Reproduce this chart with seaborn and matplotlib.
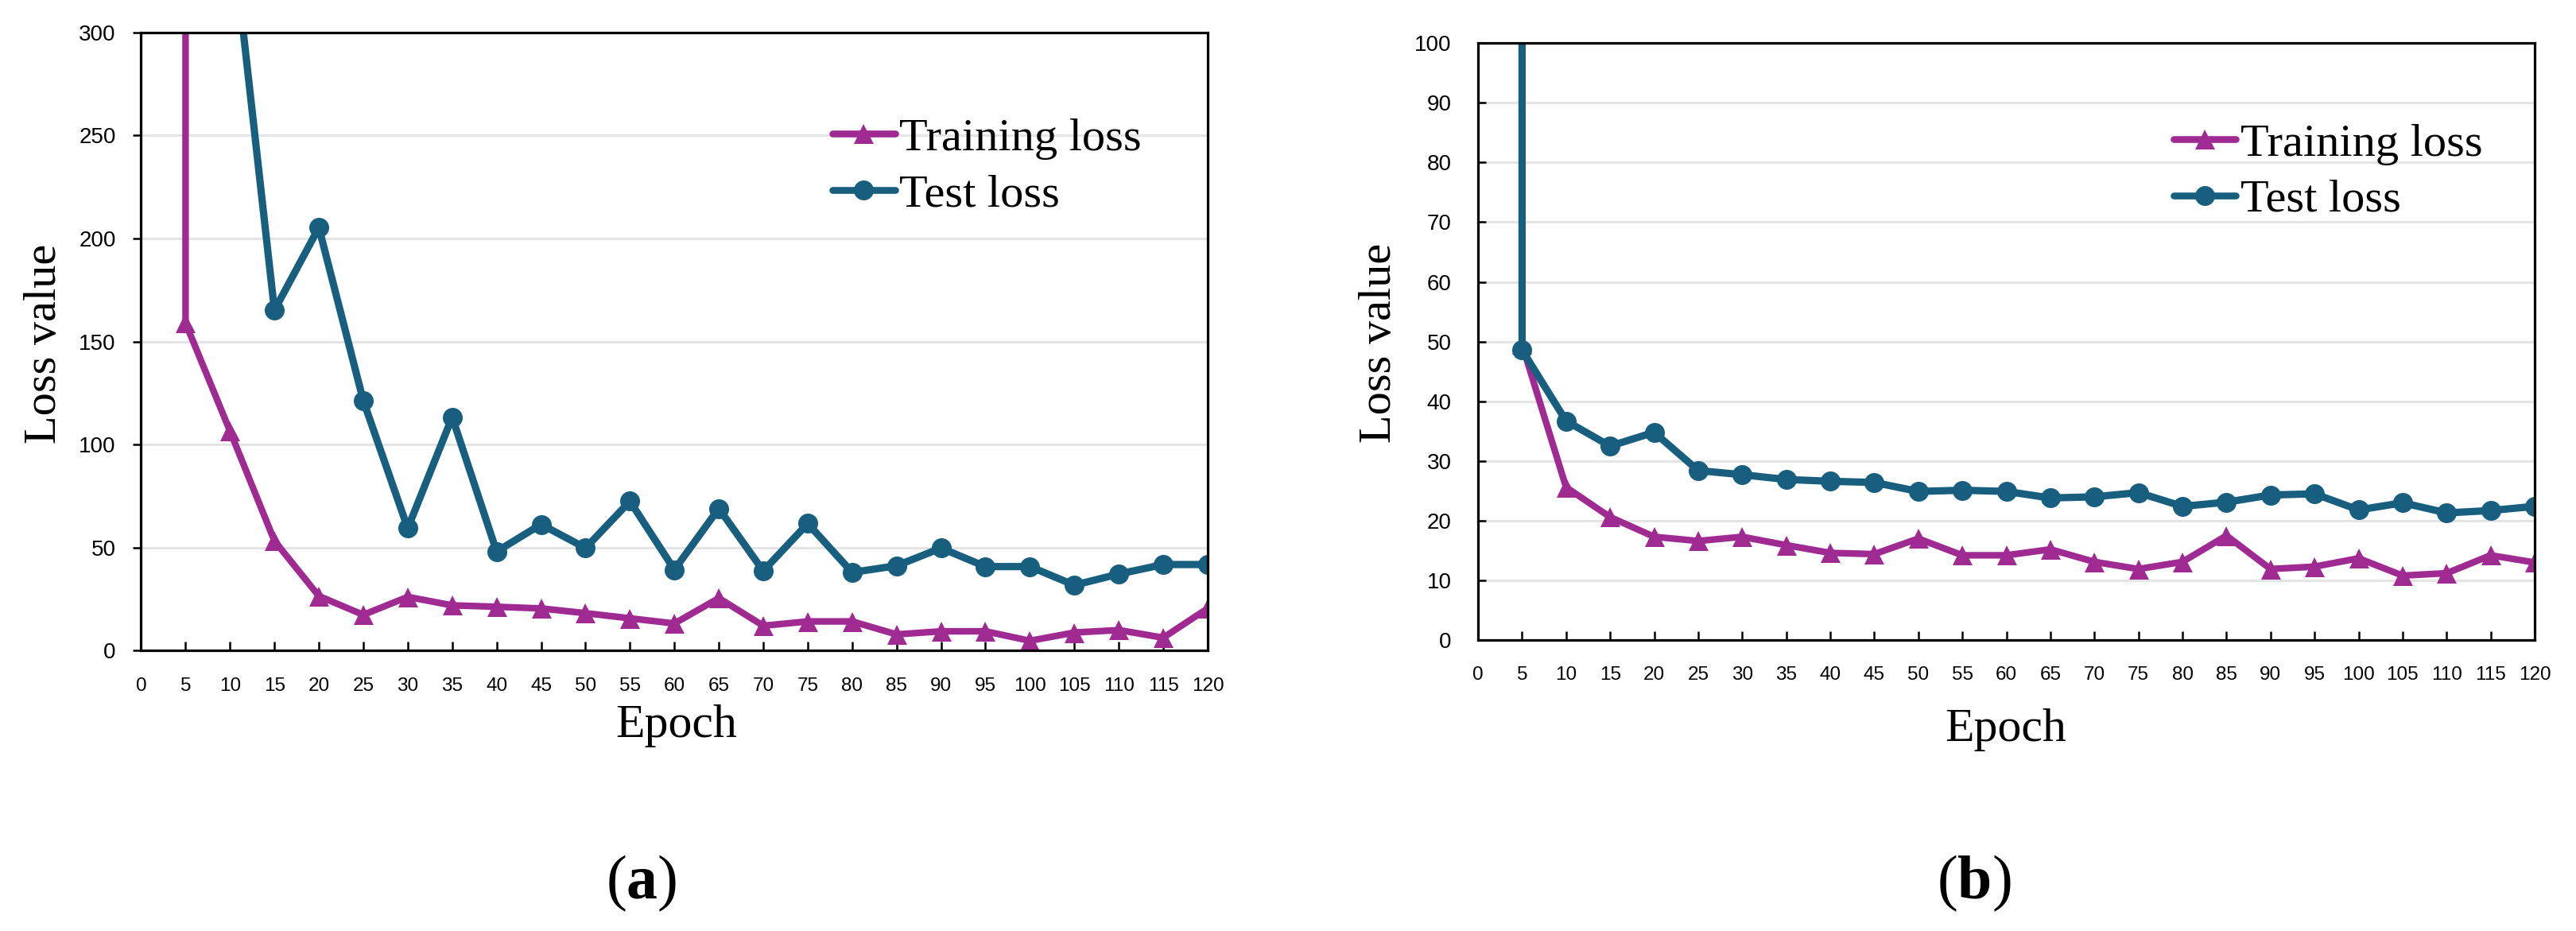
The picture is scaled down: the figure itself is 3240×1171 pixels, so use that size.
import matplotlib.pyplot as plt
import seaborn as sns
import pandas as pd

# data (first point at epoch 5 runs off the top of the chart)
epochs = [5, 5, 10, 15, 20, 25, 30, 35, 40, 45, 50, 55, 60,
          65, 70, 75, 80, 85, 90, 95, 100, 105, 110, 115, 120]
train_a = [900, 159, 106.6, 53.3, 26.5, 17.4, 26.1, 22, 21.3, 20.5, 18.2, 15.7, 13.2,
           25.5, 12.1, 14.2, 14.2, 7.9, 9.4, 9.4, 4.8, 8.8, 10, 6.3, 20.5]
test_a = [900, 900, 358, 165.2, 205.3, 121.3, 59.4, 113.3, 48.1, 61.3, 49.8, 72.5, 39.3,
          69, 38.7, 61.7, 38, 41.2, 49.8, 40.8, 40.8, 31.8, 37.2, 41.8, 41.8]
train_b = [300, 49.5, 25.6, 20.6, 17.3, 16.6, 17.3, 15.9, 14.6, 14.4, 17, 14.2, 14.2,
           15.2, 13.1, 11.9, 13.1, 17.5, 11.9, 12.3, 13.7, 10.8, 11.2, 14.2, 13]
test_b = [300, 48.6, 36.7, 32.5, 34.8, 28.4, 27.7, 26.9, 26.6, 26.4, 24.9, 25.1, 24.9,
          23.8, 24, 24.7, 22.4, 23.1, 24.3, 24.5, 21.8, 23, 21.3, 21.7, 22.4]

series_names = ['Training loss', 'Test loss']
series_colors = ['#9E2A92', '#175E7F']
series_markers = ['^', 'o']

sns.set_style('white')
plt.rcParams['font.family'] = ['Liberation Sans', 'DejaVu Sans']
plt.rcParams['text.color'] = 'black'
plt.rcParams['xtick.color'] = 'black'
plt.rcParams['ytick.color'] = 'black'
plt.rcParams['mathtext.fontset'] = 'custom'
plt.rcParams['mathtext.rm'] = 'Liberation Serif'
plt.rcParams['mathtext.bf'] = 'Liberation Serif:bold'

W, H = 3240, 1171
fig = plt.figure(figsize=(W / 100, H / 100), dpi=100)


def px(x, y):
    return x / W, 1 - y / H


def draw_panel(ax, train, test, ymax, ystep, ytick_dir, ypad, leg_xy):
    df = pd.DataFrame({
        'epoch': epochs * 2,
        'loss': train + test,
        'series': [series_names[0]] * len(epochs) + [series_names[1]] * len(epochs),
    })
    sns.lineplot(data=df, x='epoch', y='loss', hue='series', style='series',
                 hue_order=series_names, style_order=series_names,
                 palette=series_colors, markers=series_markers, dashes=False,
                 estimator=None, sort=False, linewidth=6, markersize=18,
                 markeredgewidth=0, ax=ax)
    ax.lines[1].set_linewidth(6.6)

    ax.set_xlim(0, 120)
    ax.set_ylim(0, ymax)
    ax.set_xticks(range(0, 121, 5))
    ax.set_yticks(range(0, ymax + 1, ystep))
    ax.set_xlabel('')
    ax.set_ylabel('')
    ax.yaxis.grid(True, color='#e4e4e4', linewidth=2.2)
    ax.xaxis.grid(False)
    ax.set_axisbelow(True)
    for s in ax.spines.values():
        s.set_visible(True)
        s.set_color('black')
        s.set_linewidth(2.3)
    ax.tick_params(axis='x', direction='in', length=8, width=1.8, pad=24,
                   labelsize=17.5, bottom=True)
    ax.tick_params(axis='y', direction=ytick_dir, length=7, width=1.8, pad=ypad,
                   labelsize=20, left=True)

    old = ax.get_legend()
    handles = old.legend_handles
    labels = [t.get_text() for t in old.get_texts()]
    leg = ax.legend(handles, labels, loc='center left', bbox_to_anchor=leg_xy,
                    frameon=False, prop={'family': 'Liberation Serif', 'size': 42},
                    handlelength=1.35, handletextpad=0.1, labelspacing=0.3,
                    borderpad=0, borderaxespad=0)
    for h, c, m in zip(leg.legend_handles, series_colors, series_markers):
        h.set_color(c)
        h.set_linewidth(6.2)
        h.set_marker(m)
        h.set_markersize(18)
        h.set_markeredgewidth(0)


ax_a = fig.add_axes([0.05478, 0.3011, 0.41404, 0.6641])
draw_panel(ax_a, train_a, test_a, 300, 50, 'out', 16, (0.648, 0.783))

ax_b = fig.add_axes([0.57377, 0.3125, 0.41019, 0.6412])
draw_panel(ax_b, train_b, test_b, 100, 10, 'in', 24, (0.658, 0.784))

serif = 'Liberation Serif'
fig.text(*px(56, 432), 'Loss value', rotation=90, ha='center', va='center',
         family=serif, size=42)
fig.text(*px(1735, 431), 'Loss value', rotation=90, ha='center', va='center',
         family=serif, size=42)
fig.text(*px(851, 913), 'Epoch', ha='center', va='center', family=serif, size=43)
fig.text(*px(2523, 918), 'Epoch', ha='center', va='center', family=serif, size=43)
fig.text(*px(807, 1111), r'($\mathbf{a}$)', ha='center', va='center', family=serif, size=56)
fig.text(*px(2483, 1111), r'($\mathbf{b}$)', ha='center', va='center', family=serif, size=56)

fig.savefig('out.png', dpi=100, facecolor='white')
